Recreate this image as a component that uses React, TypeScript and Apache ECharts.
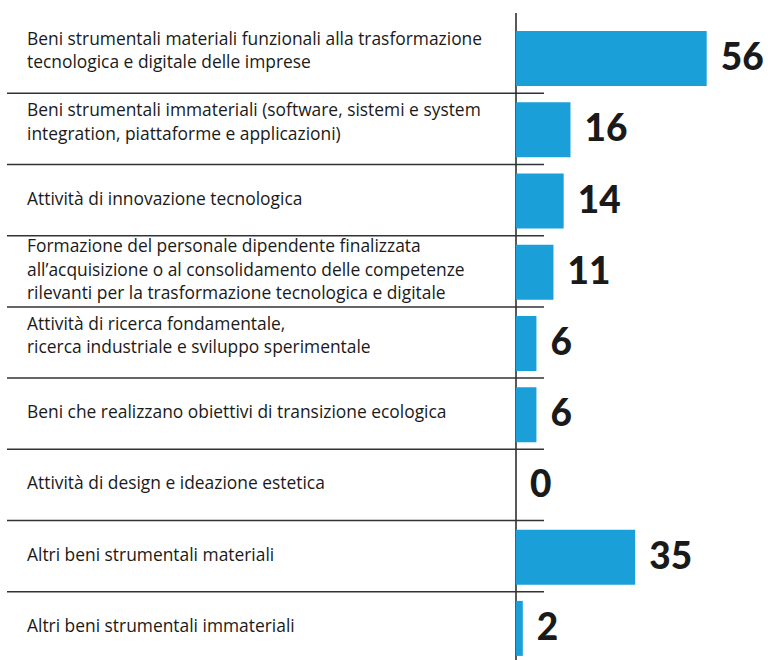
import React, { useEffect, useRef } from "react";
import * as echarts from "echarts";

const categories: string[] = [
  "Beni strumentali materiali funzionali alla trasformazione\ntecnologica e digitale delle imprese",
  "Beni strumentali immateriali (software, sistemi e system\nintegration, piattaforme e applicazioni)",
  "Attività di innovazione tecnologica",
  "Formazione del personale dipendente finalizzata\nall’acquisizione o al consolidamento delle competenze\nrilevanti per la trasformazione tecnologica e digitale",
  "Attività di ricerca fondamentale,\nricerca industriale e sviluppo sperimentale",
  "Beni che realizzano obiettivi di transizione ecologica",
  "Attività di design e ideazione estetica",
  "Altri beni strumentali materiali",
  "Altri beni strumentali immateriali",
];

const values: number[] = [56, 16, 14, 11, 6, 6, 0, 35, 2];

const BAR_COLOR = "#1b9fd9";
const TEXT_COLOR = "#1a1a1a";
const LINE_COLOR = "#333333";

export default function App() {
  const ref = useRef<HTMLDivElement>(null);

  useEffect(() => {
    if (!ref.current) return;
    const chart = echarts.init(ref.current, undefined, { renderer: "svg" });
    const n = categories.length;

    const option: any = {
      animation: false,
      backgroundColor: "#ffffff",
      grid: {
        left: 516,
        right: 0,
        top: 23,
        height: 641,
        containLabel: false,
        outerBoundsMode: "none",
      },
      xAxis: {
        type: "value",
        min: 0,
        max: 74,
        show: false,
      },
      yAxis: {
        type: "category",
        data: categories,
        inverse: true,
        axisLine: { show: false },
        axisTick: { show: false },
        splitLine: { show: false },
        axisLabel: {
          align: "left",
          margin: 489,
          formatter: (v: string) => {
            const lines = v.split("\n");
            const sp = lines.length === 2 ? "s2" : "s1";
            return lines.map((l) => "{t|" + l + "}").join("\n") + "\n{" + sp + "| }";
          },
          rich: {
            t: {
              fontFamily: "Open Sans",
              fontSize: 17.4,
              lineHeight: 23.5,
              color: TEXT_COLOR,
            },
            s1: { fontSize: 6, lineHeight: 7 },
            s2: { fontSize: 6, lineHeight: 18 },
          },
        },
      },
      series: [
        {
          type: "custom",
          clip: false,
          silent: true,
          z: 1,
          data: categories.map((_, i) => [0, i]),
          renderItem: (params: any, api: any) => {
            const i = api.value(1);
            const p = api.coord([0, i]);
            const band = api.size([0, 1])[1];
            const children: any[] = [];
            if (i < n - 1) {
              const y = p[1] + band / 2 - 1;
              children.push({
                type: "line",
                shape: { x1: p[0] - 509, y1: y, x2: p[0] + 28, y2: y },
                style: { stroke: LINE_COLOR, lineWidth: 1.5 },
              });
            }
            if (i === 0) {
              const top = p[1] - band / 2;
              children.push({
                type: "line",
                shape: { x1: p[0], y1: top - 10, x2: p[0], y2: top + band * n },
                style: { stroke: "#222222", lineWidth: 1.5 },
              });
            }
            return { type: "group", children };
          },
        },
        {
          type: "bar",
          data: values,
          barWidth: 55,
          z: 2,
          itemStyle: { color: BAR_COLOR },
          label: {
            show: true,
            position: "right",
            distance: 14,
            formatter: "{c}",
            fontFamily: "Lato",
            fontWeight: 900,
            fontSize: 37,
            color: TEXT_COLOR,
            offset: [0, -3],
          },
        },
      ],
    };

    chart.setOption(option);
    return () => chart.dispose();
  }, []);

  return (
    <div
      ref={ref}
      style={{ position: "fixed", left: 0, top: 0, width: 768, height: 660 }}
    />
  );
}
